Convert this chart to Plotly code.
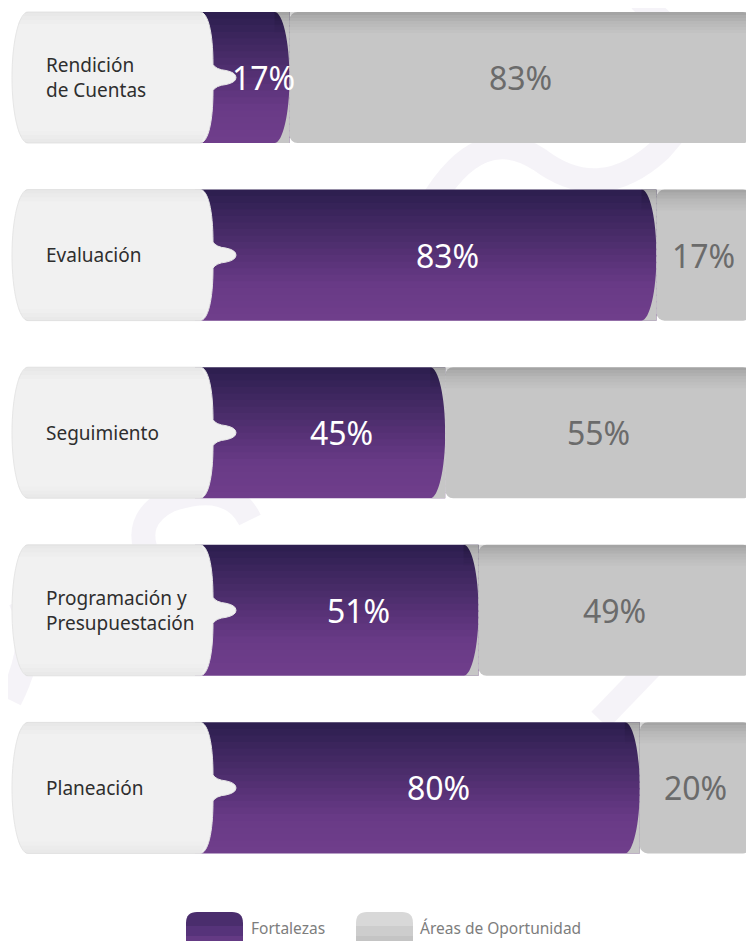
import plotly.graph_objects as go

# ---------------- data ----------------
categorias = ["Rendición<br>de Cuentas", "Evaluación", "Seguimiento",
              "Programación y<br>Presupuestación", "Planeación"]
fortalezas = [17, 83, 45, 51, 80]
oportunidad = [83, 17, 55, 49, 20]
serie_nombres = ["Fortalezas", "Áreas de Oportunidad"]

# ---------------- geometry helpers (decoration only) ----------------
OFF = 8                              # page body margin
W, H = 754 - OFF, 949 - 2 * OFF      # figure size (no page overflow)
BOTTOM = OFF + H                     # last page pixel covered by the figure
X0PX, PXU = 195.0, 5.56              # page pixel of x=0 and pixels per percent
ROW0PX, ROWU = 77.5, 177.6           # page pixel of row 0 centre, pixels per row
XR = [(OFF - X0PX) / PXU, (754 - X0PX) / PXU]
YR = [(BOTTOM - ROW0PX) / ROWU, (OFF - ROW0PX) / ROWU]   # reversed: row 0 at top

def X(px):
    return (px - X0PX) / PXU

def DY(px):
    return px / ROWU

pos = list(range(len(categorias)))
bw = 0.738
hh = bw / 2

def lerp(c1, c2, t):
    return tuple(int(round(a + (b - a) * t)) for a, b in zip(c1, c2))

def purple(t):
    c0, c1, c2 = (44, 30, 78), (104, 58, 134), (112, 62, 140)
    if t < 0.72:
        c = lerp(c0, c1, t / 0.72)
    else:
        c = lerp(c1, c2, (t - 0.72) / 0.28)
    return "rgb(%d,%d,%d)" % c

def path_of(cmds):
    out = []
    for c in cmds:
        if isinstance(c, str):
            out.append(c)
        else:
            out.append("%.5f,%.5f" % c)
    return " ".join(out)

def P(px, py):
    return ((px - OFF) / W, 1 - (py - OFF) / H)

fig = go.Figure()

# purple bars drawn as thin horizontal slices to get a vertical gradient
N = 20
step = bw / N
for k in range(N):
    off = -hh + k * step
    wdt = min(step * 1.25, hh - off)
    fig.add_trace(go.Bar(
        orientation="h", y=pos, x=fortalezas, base=0,
        offset=off, width=wdt,
        marker=dict(color=purple((k + 0.5) / N), line=dict(width=0)),
        hoverinfo="skip", showlegend=False, name=serie_nombres[0]))

# grey bars
fig.add_trace(go.Bar(
    orientation="h", y=pos, x=oportunidad, base=fortalezas, width=bw,
    marker=dict(color="#c6c6c6", line=dict(width=0), cornerradius=8),
    hoverinfo="skip", showlegend=False, name=serie_nombres[1]))

shapes = []

# background swooshes (very faint)
swoosh = "rgba(205,195,218,0.20)"
for cmds in [
    ["M", P(430, 205), "Q", P(480, 120), P(540, 160), "Q", P(600, 205), P(660, 150), "L", P(754, 40)],
    ["M", P(640, 0), "Q", P(700, 60), P(754, 90)],
    ["M", P(150, 560), "Q", P(130, 520), P(170, 500), "Q", P(230, 480), P(250, 520)],
    ["M", P(10, 700), "Q", P(40, 640), P(20, 600)],
    ["M", P(600, 720), "L", P(754, 560)],
]:
    shapes.append(dict(type="path", xref="paper", yref="paper", layer="below",
                       path=path_of(cmds), line=dict(color=swoosh, width=24)))

d = X(15) - X(0)
alphas = [0.17, 0.13, 0.10, 0.07, 0.05, 0.03, 0.015]
for i, v in zip(pos, fortalezas):
    top, bot = i - hh, i + hh
    # curved (cylinder-like) end of purple bar
    for edge, sgn in ((top, -1), (bot, 1)):
        shapes.append(dict(type="path", xref="x", yref="y", line=dict(width=0),
                           fillcolor="#c6c6c6",
                           path=path_of(["M", (v - d, edge), "C", (v - d + 0.552 * d, edge),
                                         (v, i + sgn * 0.552 * hh), (v, i), "L", (v, edge), "Z"])))
    # top shading band across the grey part
    for k, a in enumerate(alphas):
        shapes.append(dict(type="rect", xref="x", yref="y", line=dict(width=0),
                           fillcolor="rgba(0,0,0,%.3f)" % a,
                           x0=v - d, x1=99.4,
                           y0=top + DY(3 * k), y1=top + DY(3 * (k + 1))))

# label boxes
for i in pos:
    top, bot = i - hh, i + hh
    m = i
    cmds = ["M", (X(28), top), "L", (X(200), top),
            "C", (X(208), top), (X(213), m - DY(45)), (X(213), m - DY(13)),
            "Q", (X(216), m - DY(8)), (X(226), m - DY(7)),
            "Q", (X(236), m - DY(5)), (X(236), m),
            "Q", (X(236), m + DY(5)), (X(226), m + DY(7)),
            "Q", (X(216), m + DY(8)), (X(213), m + DY(13)),
            "C", (X(213), m + DY(45)), (X(208), bot), (X(200), bot),
            "L", (X(28), bot),
            "C", (X(19), bot), (X(12), m + DY(36)), (X(12), m),
            "C", (X(12), m - DY(36)), (X(19), top), (X(28), top), "Z"]
    shapes.append(dict(type="path", xref="x", yref="y", path=path_of(cmds),
                       fillcolor="#f1f1f1", line=dict(color="#e6e6e6", width=1)))
    # soft shading at the top and bottom of the label box
    for k, a in enumerate([0.035, 0.022, 0.012]):
        y0, y1 = top + DY(4 * k), top + DY(4 * (k + 1))
        shapes.append(dict(type="path", xref="x", yref="y", line=dict(width=0),
                           fillcolor="rgba(0,0,0,%.3f)" % a,
                           path=path_of(["M", (X(26 - 3 * k), y0), "L", (X(201 + 2 * k), y0),
                                         "L", (X(203 + 2 * k), y1), "L", (X(23 - 3 * k), y1), "Z"])))
    for k, a in enumerate([0.03, 0.018, 0.008]):
        y0, y1 = bot - DY(4 * k), bot - DY(4 * (k + 1))
        shapes.append(dict(type="path", xref="x", yref="y", line=dict(width=0),
                           fillcolor="rgba(0,0,0,%.3f)" % a,
                           path=path_of(["M", (X(26 - 3 * k), y0), "L", (X(201 + 2 * k), y0),
                                         "L", (X(203 + 2 * k), y1), "L", (X(23 - 3 * k), y1), "Z"])))

# legend swatches
def rrect(x0, y0, x1, y1, r):
    return path_of(["M", P(x0, y1), "L", P(x0, y0 + r), "Q", P(x0, y0), P(x0 + r, y0),
                    "L", P(x1 - r, y0), "Q", P(x1, y0), P(x1, y0 + r), "L", P(x1, y1), "Z"])

shapes.append(dict(type="path", xref="paper", yref="paper", path=rrect(186, 912, 243, 960, 11),
                   fillcolor="#4a2d6d", line=dict(width=0)))
shapes.append(dict(type="path", xref="paper", yref="paper", path=rrect(186, 926, 243, 960, 0.1),
                   fillcolor="#56337a", line=dict(width=0)))
shapes.append(dict(type="path", xref="paper", yref="paper", path=rrect(186, 936, 243, 960, 0.1),
                   fillcolor="#643a84", line=dict(width=0)))
shapes.append(dict(type="path", xref="paper", yref="paper", path=rrect(356, 912, 413, 960, 11),
                   fillcolor="#d8d8d8", line=dict(width=0)))
shapes.append(dict(type="path", xref="paper", yref="paper", path=rrect(356, 926, 413, 960, 0.1),
                   fillcolor="#cdcdcd", line=dict(width=0)))
shapes.append(dict(type="path", xref="paper", yref="paper", path=rrect(356, 936, 413, 960, 0.1),
                   fillcolor="#c4c4c4", line=dict(width=0)))

annotations = []
FONT = "Noto Sans"
for i, lab, v, o in zip(pos, categorias, fortalezas, oportunidad):
    annotations.append(dict(x=X(44), y=i, xref="x", yref="y", text=lab, showarrow=False,
                            xanchor="left", yanchor="middle", align="left",
                            font=dict(family=FONT, size=19, color="#2e2e2e")))
    annotations.append(dict(x=(X(238) + v) / 2, y=i, xref="x", yref="y", text="%d%%" % v,
                            showarrow=False, xanchor="center", yanchor="middle",
                            font=dict(family=FONT, size=32, color="#ffffff")))
    annotations.append(dict(x=(v + 100) / 2, y=i, xref="x", yref="y", text="%d%%" % o,
                            showarrow=False, xanchor="center", yanchor="middle",
                            font=dict(family=FONT, size=32, color="#6b6b6b")))

lx, ly = P(249, 928)
annotations.append(dict(x=lx, y=ly, xref="paper", yref="paper", text=serie_nombres[0],
                        showarrow=False, xanchor="left", yanchor="middle",
                        font=dict(family=FONT, size=15.5, color="#7d7d7d")))
lx, ly = P(418, 928)
annotations.append(dict(x=lx, y=ly, xref="paper", yref="paper", text=serie_nombres[1],
                        showarrow=False, xanchor="left", yanchor="middle",
                        font=dict(family=FONT, size=15.5, color="#7d7d7d")))

fig.update_layout(
    width=W, height=H, margin=dict(l=0, r=0, t=0, b=0),
    barmode="overlay", paper_bgcolor="#ffffff", plot_bgcolor="#ffffff",
    xaxis=dict(range=XR, visible=False, fixedrange=True),
    yaxis=dict(range=YR, visible=False, fixedrange=True),
    shapes=shapes, annotations=annotations, showlegend=False,
)
fig.write_html("out.html")
